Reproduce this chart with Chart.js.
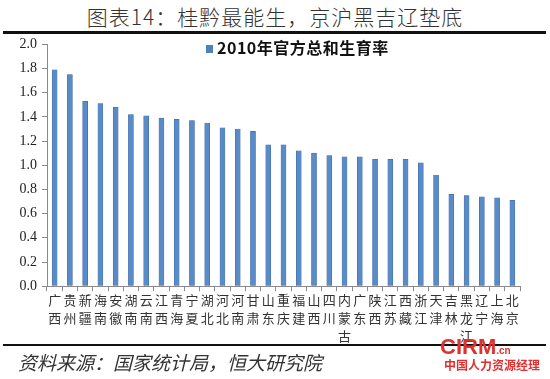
<!DOCTYPE html>
<html><head><meta charset="utf-8">
<script src="https://cdn.jsdelivr.net/npm/chart.js@4.4.1/dist/chart.umd.min.js"></script>
<style>
html,body{margin:0;padding:0;background:#fff;width:550px;height:379px;overflow:hidden;position:relative;font-family:"Noto Sans CJK SC",sans-serif}
#title{position:absolute;left:0;top:3px;width:550px;text-align:center;font-size:21px;line-height:26px;color:#333;letter-spacing:1px;font-weight:300}
#line1{position:absolute;left:3px;top:31px;width:543px;height:3px;background:#111}
#line2{position:absolute;left:3px;top:344px;width:543px;height:2px;background:#111}
#foot{position:absolute;left:18px;top:349px;font-size:19px;line-height:26px;font-style:italic;color:#333}
#legend{position:absolute;left:206px;top:37px;font-size:16px;line-height:20px;font-weight:bold;color:#111;letter-spacing:0.5px}
#legend span.sw{display:inline-block;width:7px;height:8px;background:#4f81bd;margin-right:4px;vertical-align:1px}
#wrap{position:absolute;left:0;top:31px;width:550px;height:314px}
#wm{position:absolute;left:440px;top:336px;color:#e03030;font-weight:bold;font-size:22px;line-height:22px;font-family:"Liberation Sans",sans-serif}
#wm2{position:absolute;left:444px;top:358px;color:#e03030;font-size:12px;line-height:14px;font-weight:bold}
</style></head>
<body>
<div id="title">图表14：桂黔最能生，京沪黑吉辽垫底</div>
<div id="wrap"><canvas id="c" width="550" height="314"></canvas></div>
<div id="line1"></div>
<div id="legend"><span class="sw"></span>2010年官方总和生育率</div>
<div id="line2"></div>
<div id="foot">资料来源：国家统计局，恒大研究院</div>
<div id="wm">CIRM<span style="font-size:10px">.cn</span></div>
<div id="wm2">中国人力资源经理</div>
<script>
const categories = ["广西","贵州","新疆","海南","安徽","湖南","云南","江西","青海","宁夏","湖北","河北","河南","甘肃","山东","重庆","福建","山西","四川","内蒙古","广东","陕西","江苏","西藏","浙江","天津","吉林","黑龙江","辽宁","上海","北京"];
const tfr2010 = [1.79,1.75,1.53,1.51,1.48,1.42,1.41,1.39,1.38,1.37,1.35,1.31,1.30,1.28,1.17,1.17,1.12,1.10,1.08,1.07,1.07,1.05,1.05,1.05,1.02,0.92,0.76,0.75,0.74,0.73,0.71];
const seriesName = "2010年官方总和生育率";
const yTicks = [0,0.2,0.4,0.6,0.8,1.0,1.2,1.4,1.6,1.8,2.0];

const ctx = document.getElementById('c').getContext('2d');
function barFill(context){
  const chart = context.chart;
  const el = context.element;
  if(!el || el.x === undefined || isNaN(el.x)) return '#5a8bc9';
  const w = el.width || 5;
  const g = chart.ctx.createLinearGradient(el.x - w/2, 0, el.x + w/2, 0);
  g.addColorStop(0,'#3d6aa6');
  g.addColorStop(0.5,'#9dbfe8');
  g.addColorStop(1,'#3d6aa6');
  return g;
}
new Chart(ctx,{
  type:'bar',
  data:{
    labels: categories.map(s=>s.split('')),
    datasets:[{label:seriesName,data:tfr2010,backgroundColor:barFill,borderColor:'#3a64a0',borderWidth:0.5,barThickness:5}]
  },
  options:{
    responsive:false,animation:false,
    layout:{padding:{top:0,right:30,left:0,bottom:0}},
    plugins:{legend:{display:false},tooltip:{enabled:false}},
    scales:{
      x:{
        grid:{drawOnChartArea:false,drawTicks:true,tickLength:5,color:'#8a8a8a',offset:true},
        border:{color:'#8a8a8a',width:1},
        ticks:{maxRotation:0,minRotation:0,autoSkip:false,color:'#333',padding:0,font:{family:'"Noto Sans CJK SC"',size:13,lineHeight:1.38}}
      },
      y:{
        min:0,max:2,
        afterBuildTicks:(s)=>{s.ticks = yTicks.map(v=>({value:v}));},
        afterFit:(s)=>{s.width=47;},
        grid:{drawOnChartArea:false,drawTicks:true,tickLength:5,color:'#8a8a8a'},
        border:{color:'#8a8a8a',width:1},
        ticks:{color:'#222',padding:5,font:{family:'"Liberation Serif"',size:14},callback:(v)=>Number(v).toFixed(1)}
      }
    }
  }
});
</script>
</body></html>
